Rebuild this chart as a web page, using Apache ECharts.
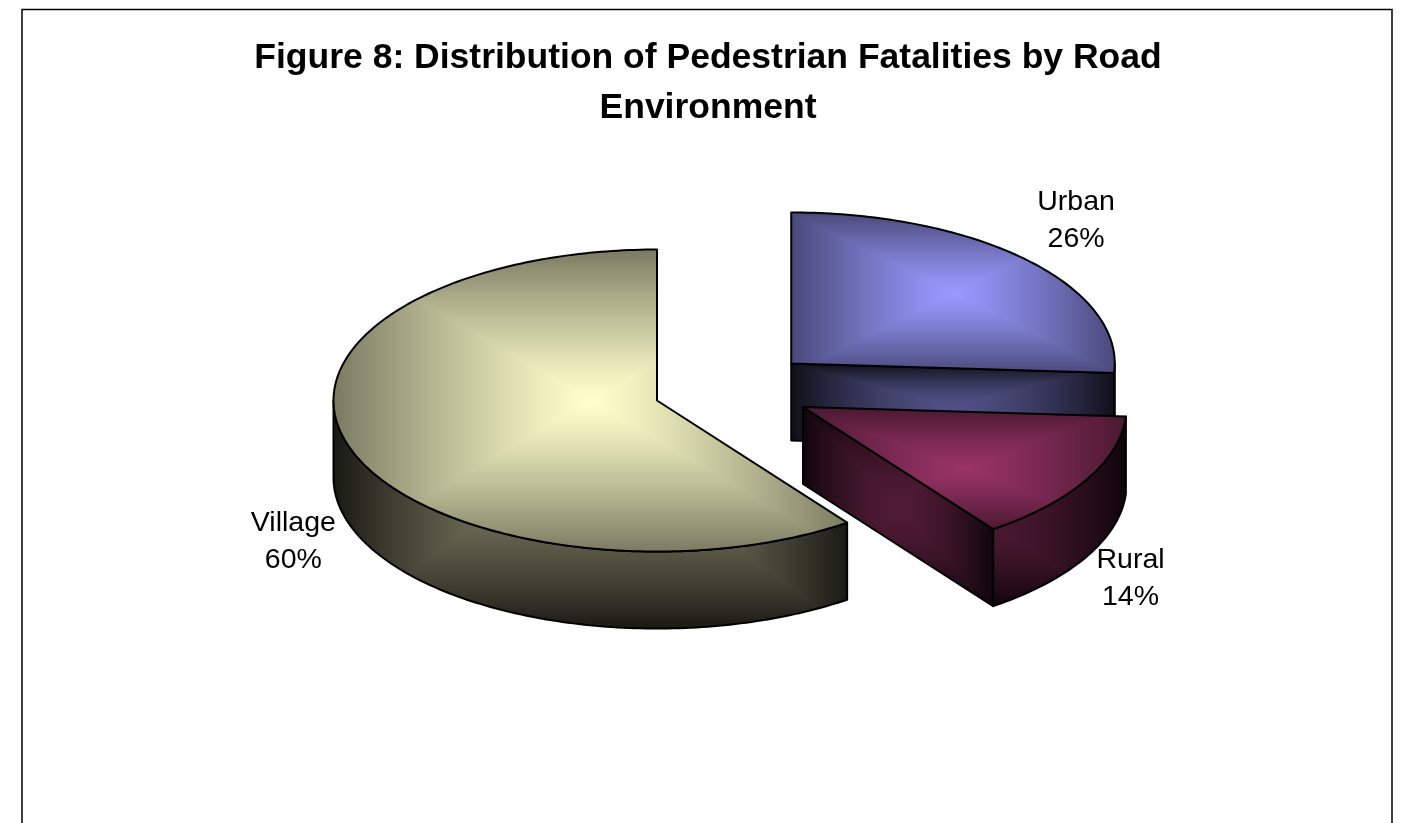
<!DOCTYPE html>
<html>
<head>
<meta charset="utf-8">
<style>html,body{margin:0;padding:0;background:#fff}#chart{width:1405px;height:823px}</style>
<script src="https://cdn.jsdelivr.net/npm/echarts@6/dist/echarts.min.js"></script>
</head>
<body>
<div id="chart"></div>
<script>
// ---- data ----
var categories = ['Urban', 'Rural', 'Village'];
var shares = [26, 14, 60];
var titleText = 'Figure 8: Distribution of Pedestrian Fatalities by Road\nEnvironment';

// ---- layout & style (not data) ----
var pieCenter = [733, 389];
var radiusX = 323.5, radiusY = 151, depth = 77, explode = 0.247;
var labelOffsets = [[49, -39], [44, 99], [-56, 94]];
var baseColors = [[153, 153, 255], [153, 51, 102], [255, 255, 204]];

function ellipsePoint(c, deg, z) {
  var a = deg * Math.PI / 180;
  return [c[0] + Math.sin(a) * radiusX, c[1] - Math.cos(a) * radiusY + (z || 0)];
}
function arcPoints(c, from, to, z) {
  var pts = [], n = Math.max(2, Math.ceil(Math.abs(to - from)));
  for (var i = 0; i <= n; i++) pts.push(ellipsePoint(c, from + (to - from) * i / n, z));
  return pts;
}
function bbox(pts) {
  var x0 = 1e9, y0 = 1e9, x1 = -1e9, y1 = -1e9;
  pts.forEach(function (p) {
    x0 = Math.min(x0, p[0]); x1 = Math.max(x1, p[0]);
    y0 = Math.min(y0, p[1]); y1 = Math.max(y1, p[1]);
  });
  return [x0, y0, x1, y1];
}
// "from centre" rectangular path gradient, as a full-page image pattern
function pathGradient(box, inner, outer, gamma) {
  var cv = document.createElement('canvas');
  cv.width = 1405; cv.height = 823;
  var ctx = cv.getContext('2d');
  var x0 = Math.floor(box[0]) - 3, y0 = Math.floor(box[1]) - 3;
  var w = Math.ceil(box[2] - box[0]) + 7, h = Math.ceil(box[3] - box[1]) + 7;
  var img = ctx.createImageData(w, h);
  var cx = (box[0] + box[2]) / 2, cy = (box[1] + box[3]) / 2;
  var hw = (box[2] - box[0]) / 2, hh = (box[3] - box[1]) / 2;
  for (var j = 0; j < h; j++) for (var i = 0; i < w; i++) {
    var t = Math.min(1, Math.max(Math.abs(x0 + i - cx) / hw, Math.abs(y0 + j - cy) / hh));
    t = Math.pow(t, gamma);
    var k = (j * w + i) * 4;
    for (var m = 0; m < 3; m++) img.data[k + m] = inner[m] + (outer[m] - inner[m]) * t;
    img.data[k + 3] = 255;
  }
  ctx.putImageData(img, x0, y0);
  return { image: cv, repeat: 'no-repeat' };
}
function shade(c, f) { return c.map(function (v) { return v * f; }); }

var total = shares.reduce(function (a, b) { return a + b; }, 0);
var slices = [], running = 0;
shares.forEach(function (v) {
  var from = running / total * 360;
  running += v;
  slices.push({ from: from, to: running / total * 360 });
});
var patternCache = {};
function facePolygon(key, pts, box, inner, outer, gamma) {
  if (!patternCache[key]) patternCache[key] = pathGradient(box, inner, outer, gamma);
  return {
    type: 'polygon',
    shape: { points: pts },
    style: { fill: patternCache[key], stroke: '#000', lineWidth: 2, lineJoin: 'round' }
  };
}

function renderSlice(params, api) {
  var i = params.dataIndex, s = slices[i], mid = (s.from + s.to) / 2, a = mid * Math.PI / 180;
  var c = [pieCenter[0] + Math.sin(a) * explode * radiusX, pieCenter[1] - Math.cos(a) * explode * radiusY];
  var base = baseColors[i];
  var topPts = [c].concat(arcPoints(c, s.from, s.to, 0));
  var solidPts = topPts.concat(topPts.map(function (p) { return [p[0], p[1] + depth]; }));
  var children = [];
  var sideInner = shade(base, 0.52), sideOuter = shade(base, 0.1);
  function cutFace(deg, tag) {
    var e = ellipsePoint(c, deg, 0);
    var pts = [c, e, [e[0], e[1] + depth], [c[0], c[1] + depth]];
    children.push(facePolygon(i + tag, pts, bbox(pts), sideInner, sideOuter, 1.6));
  }
  if (Math.sin(s.from * Math.PI / 180) < -1e-6) cutFace(s.from, 's');
  if (Math.sin(s.to * Math.PI / 180) > 1e-6) cutFace(s.to, 'e');
  var wFrom = Math.max(s.from, 90), wTo = Math.min(s.to, 270);
  if (wTo > wFrom) {
    var pts = arcPoints(c, wFrom, wTo, 0).concat(arcPoints(c, wTo, wFrom, depth));
    children.push(facePolygon(i + 'w', pts, bbox(solidPts.slice(1)), sideInner, sideOuter, 1.6));
  }
  children.push(facePolygon(i + 't', topPts, bbox(topPts), base, shade(base, 0.48), 1.2));
  var lp = ellipsePoint(c, mid, 0);
  children.push({
    type: 'text',
    style: {
      x: lp[0] + labelOffsets[i][0], y: lp[1] + labelOffsets[i][1],
      text: categories[i] + '\n' + api.value(1) + '%',
      fill: '#000', font: '28.5px "Liberation Sans"', align: 'center', verticalAlign: 'middle', lineHeight: 37
    }
  });
  return { type: 'group', children: children };
}

var chart = echarts.init(document.getElementById('chart'), null, { renderer: 'canvas' });
chart.setOption({
  animation: false,
  backgroundColor: '#fff',
  title: {
    text: titleText, left: 703, top: 28, textAlign: 'center',
    textStyle: { fontFamily: 'Liberation Sans', fontSize: 35.5, fontWeight: 'bold', color: '#000', lineHeight: 50 }
  },
  graphic: [{
    type: 'polyline', silent: true,
    shape: { points: [[22, 830], [22, 9.5], [1392, 9.5], [1392, 830]] },
    style: { stroke: '#000', lineWidth: 1.5, fill: null }
  }],
  xAxis: { show: false, type: 'category', data: categories },
  yAxis: { show: false, type: 'value' },
  series: [{
    type: 'custom',
    coordinateSystem: 'none',
    renderItem: renderSlice,
    data: categories.map(function (n, i) { return { name: n, value: [i, shares[i]] }; }),
    encode: { tooltip: 1 }
  }]
});
</script>
</body>
</html>
